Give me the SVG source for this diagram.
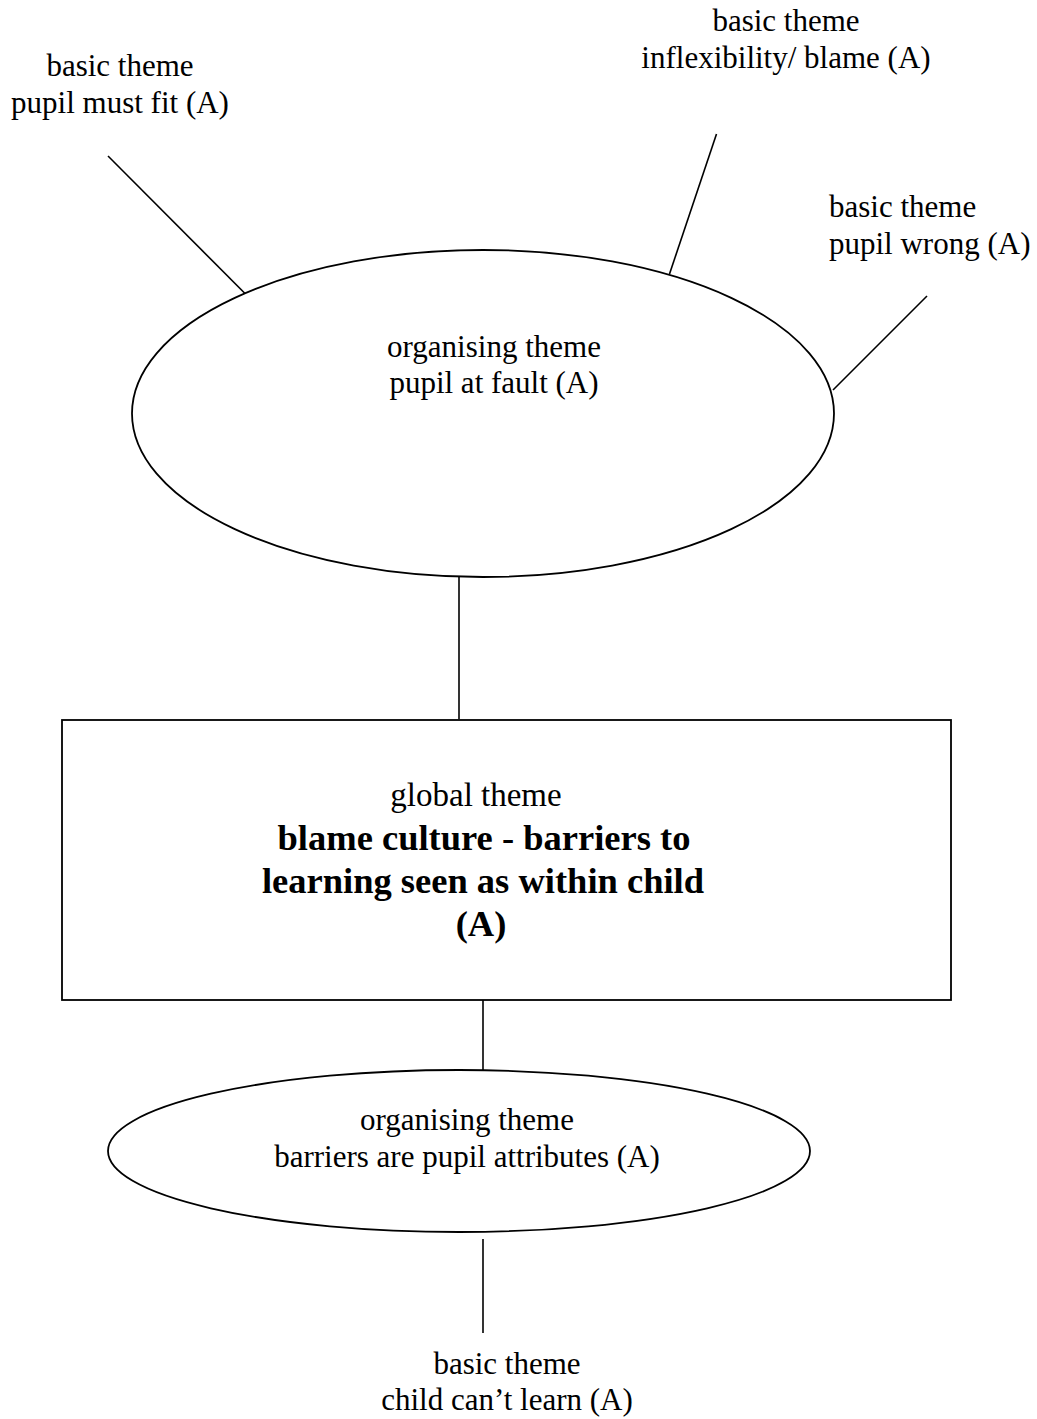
<svg xmlns="http://www.w3.org/2000/svg" width="1037" height="1419" viewBox="0 0 1037 1419">
  <style>
    .bg { fill: #ffffff; }
    .shape { fill: #ffffff; stroke: #000000; stroke-width: 1.8; }
    .link { stroke: #000000; stroke-width: 1.6; fill: none; }
    text { font-family: "Liberation Serif", "Times New Roman", serif; fill: #000000; }
    .lbl { font-size: 31px; }
    .c { text-anchor: middle; }
    .head { font-size: 33px; }
    .bold { font-size: 36.5px; font-weight: bold; }
  </style>
  <rect class="bg" x="0" y="0" width="1037" height="1419"/>

  <!-- connectors -->
  <g id="connectors">
    <line class="link" x1="108" y1="156" x2="248.5" y2="297"/>
    <line class="link" x1="716.5" y1="134" x2="669.5" y2="274"/>
    <line class="link" x1="927" y1="296" x2="833" y2="390"/>
    <line class="link" x1="459" y1="577" x2="459" y2="719"/>
    <line class="link" x1="483" y1="1000" x2="483" y2="1070"/>
    <line class="link" x1="483" y1="1239" x2="483" y2="1333"/>
  </g>

  <!-- basic theme: pupil must fit -->
  <g id="basic-pupil-must-fit">
    <text class="lbl c" x="120" y="76">basic theme</text>
    <text class="lbl c" x="120" y="113">pupil must fit (A)</text>
  </g>

  <!-- basic theme: inflexibility / blame -->
  <g id="basic-inflexibility">
    <text class="lbl c" x="786" y="31">basic theme</text>
    <text class="lbl c" x="786" y="68">inflexibility/ blame (A)</text>
  </g>

  <!-- basic theme: pupil wrong -->
  <g id="basic-pupil-wrong">
    <text class="lbl" x="829" y="217">basic theme</text>
    <text class="lbl" x="829" y="254">pupil wrong (A)</text>
  </g>

  <!-- organising theme: pupil at fault -->
  <g id="org-pupil-at-fault">
    <ellipse class="shape" cx="483" cy="413.5" rx="351" ry="163.5"/>
    <text class="lbl c" x="494" y="357">organising theme</text>
    <text class="lbl c" x="494" y="393">pupil at fault (A)</text>
  </g>

  <!-- global theme -->
  <g id="global-theme">
    <rect class="shape" x="62" y="720" width="889" height="280" stroke-width="2.2"/>
    <text class="head c" x="476" y="806">global theme</text>
    <text class="bold c" x="484" y="850">blame culture - barriers to</text>
    <text class="bold c" x="483" y="893">learning seen as within child</text>
    <text class="bold c" x="481" y="936">(A)</text>
  </g>

  <!-- organising theme: barriers are pupil attributes -->
  <g id="org-barriers">
    <ellipse class="shape" cx="459" cy="1151" rx="351" ry="81"/>
    <text class="lbl c" x="467" y="1130">organising theme</text>
    <text class="lbl c" x="467" y="1167">barriers are pupil attributes (A)</text>
  </g>

  <!-- basic theme: child can't learn -->
  <g id="basic-child-cant-learn">
    <text class="lbl c" x="507" y="1374">basic theme</text>
    <text class="lbl c" x="507" y="1410">child can’t learn (A)</text>
  </g>
</svg>
